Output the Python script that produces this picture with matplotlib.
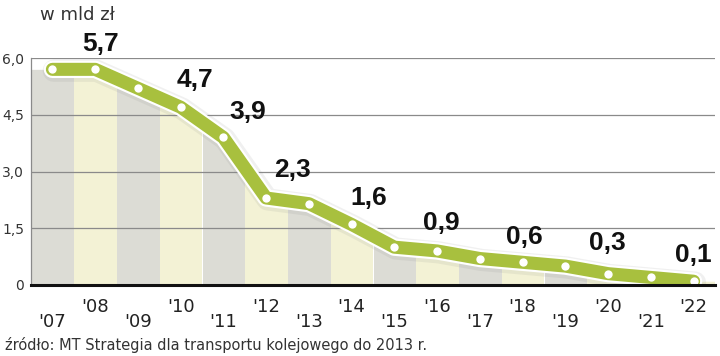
#!/usr/bin/env python
# Chart: planned spending on rail transport, 2007-2022 (w mld zł)

import matplotlib
matplotlib.use("Agg")
import matplotlib.pyplot as plt
import matplotlib.patheffects as pe
from matplotlib.patches import Rectangle
import numpy as np

################################################################################
# Data
years = ["'07", "'08", "'09", "'10", "'11", "'12", "'13", "'14",
         "'15", "'16", "'17", "'18", "'19", "'20", "'21", "'22"]
values = [5.7, 5.7, 5.2, 4.7, 3.9, 2.3, 2.15, 1.6,
          1.0, 0.9, 0.7, 0.6, 0.5, 0.3, 0.2, 0.1]
labelled = [1, 3, 4, 5, 7, 9, 11, 13, 15]        # points with a value label
yticks = [0, 1.5, 3.0, 4.5, 6.0]
ytick_labels = ["0", "1,5", "3,0", "4,5", "6,0"]
unit_text = "w mld zł"
source_text = "źródło: MT Strategia dla transportu kolejowego do 2013 r."
################################################################################

################################################################################
# Style
GREEN = "#a8c03e"
STRIPE_COLORS = ["#dcdcd5", "#f3f2d5"]
GRID_COLOR = "#8a8a8a"
TEXT_COLOR = "#222222"
# label offsets in pixels (dx, dy) from the point
LABEL_OFFSETS = [(5, 25), (14, 27), (24, 25), (26, 28), (17, 26),
                 (4, 28), (2, 25), (-1, 31), (0, 26)]
################################################################################

x = np.arange(len(values))
vals = np.array(values)

fig = plt.figure(figsize=(7.2, 3.56), dpi=100)
ax = fig.add_axes([31 / 720, 1 - 285 / 356, 684 / 720, 227 / 356])

ax.set_xlim(-0.5, len(values) - 0.5)
ax.set_ylim(0, 6.0)

# striped area under the line
xs_ext = np.r_[-0.5, x, len(values) - 0.5]
vs_ext = np.r_[vals[0], vals, vals[-1]]
gap = 0.015
for i in range(len(values)):
    poly = ax.fill_between(xs_ext, vs_ext, color=STRIPE_COLORS[i % 2],
                           linewidth=0, zorder=1)
    clip = Rectangle((i - 0.5 + gap, 0), 1 - 2 * gap, 10,
                     transform=ax.transData)
    poly.set_clip_path(clip)

# grid
for t in yticks[1:]:
    ax.axhline(t, color=GRID_COLOR, linewidth=0.9, zorder=1.5)

# the line with white outline and soft shadow
ax.plot(x, vals, color=GREEN, linewidth=9.4,
        solid_capstyle="round", solid_joinstyle="round", zorder=3,
        path_effects=[pe.SimpleLineShadow(offset=(1, -1), shadow_color="#888888",
                                          alpha=0.12, linewidth=16),
                      pe.Stroke(linewidth=12.5, foreground="white"),
                      pe.Normal()])
ax.plot(x, vals, "o", color="white", markersize=6, markeredgewidth=0, zorder=4)

# value labels
for idx, (dx, dy) in zip(labelled, LABEL_OFFSETS):
    txt = ("%.1f" % values[idx]).replace(".", ",")
    ax.annotate(txt, (x[idx], vals[idx]), xytext=(dx, dy),
                textcoords="offset pixels", ha="center", va="center",
                fontsize=19, fontweight="bold", family="Liberation Sans",
                color="#111111", zorder=6, annotation_clip=False)

# axes
for s in ["top", "right"]:
    ax.spines[s].set_visible(False)
ax.spines["left"].set_color(GRID_COLOR)
ax.spines["left"].set_linewidth(0.9)
ax.spines["bottom"].set_color("#111111")
ax.spines["bottom"].set_linewidth(2.2)
ax.spines["bottom"].set_zorder(5)

ax.set_yticks(yticks)
ax.set_yticklabels(ytick_labels)
ax.tick_params(axis="y", length=0, pad=5, labelsize=10, labelcolor="#333333")

# staggered year labels
ax.set_xticks(x[0::2])
ax.set_xticklabels(years[0::2])
ax.set_xticks(x[1::2], minor=True)
ax.set_xticklabels(years[1::2], minor=True)
ax.tick_params(axis="x", which="major", length=0, pad=20, labelsize=13,
               labelcolor=TEXT_COLOR)
ax.tick_params(axis="x", which="minor", length=0, pad=9, labelsize=13,
               labelcolor=TEXT_COLOR)

fig.text(40 / 720, 1 - 6 / 356, unit_text, ha="left", va="top",
         fontsize=13, color="#333333")
fig.text(5 / 720, 1 - 353 / 356, source_text, ha="left", va="bottom",
         fontsize=10.5, color="#333333")

plt.savefig("out.png", dpi=100)
plt.close()
